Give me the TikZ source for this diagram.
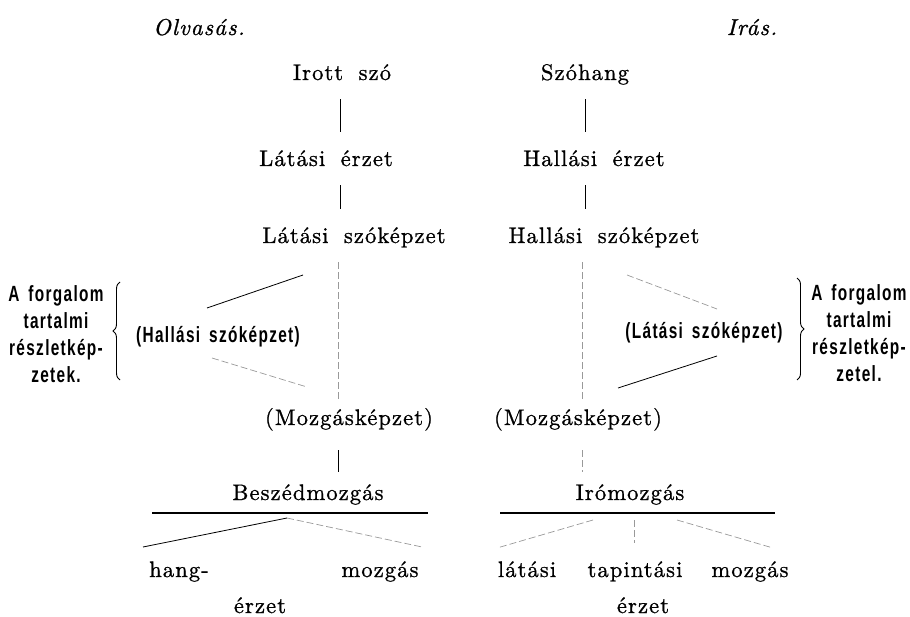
\documentclass[tikz,border=0pt]{standalone}
\usepackage{fontspec}
\usetikzlibrary{decorations.pathreplacing}
\newfontfamily\printfont{lmroman10-regular.otf}[ItalicFont=lmroman10-italic.otf,LetterSpace=5,WordSpace=1.8,FakeBold=1]
\newfontfamily\condfont{Liberation Sans}[FakeStretch=0.7,LetterSpace=6,WordSpace=1.6]
\begin{document}
\begin{tikzpicture}[x=1pt,y=-1pt,
    word/.style={anchor=base,inner sep=0pt,text height=15pt,text depth=5pt,font=\printfont\fontsize{22.5}{26}\selectfont},
    head/.style={word,font=\printfont\itshape\fontsize{23}{26}\selectfont},
    cond/.style={inner sep=0pt,align=center,font=\condfont\bfseries\fontsize{22}{27}\selectfont},
    rule/.style={line width=0.8pt},
    faint/.style={black!40,line width=0.7pt,dash pattern=on 7pt off 3pt},
    link/.style={rule,shorten <=14pt,shorten >=19pt},
    bar/.style={line width=2.2pt},
    curly/.style={decorate,decoration={brace,amplitude=7pt},line width=0.9pt}]
        \useasboundingbox (0,0) rectangle (910,617);
        \node at (199,35) [head] (olv) {Olvasás.};
        \node at (752,35) [head] (iras) {Irás.};
        \node at (342,80) [word] (irott) {Irott szó};
        \node at (585,80) [word] (szohang) {Szóhang};
        \node at (326,166) [word] (laterz) {Látási érzet};
        \node at (594,166) [word] (hallerz) {Hallási érzet};
        \node at (354,243) [word] (latsz) {Látási szóképzet};
        \node at (604,243) [word] (hallsz) {Hallási szóképzet};
        \node at (349,425) [word] (lmoz) {(Mozgásképzet)};
        \node at (578,425) [word] (rmoz) {(Mozgásképzet)};
        \node at (308,500) [word] (beszed) {Beszédmozgás};
        \node at (630,500) [word] (iromoz) {Irómozgás};
        \node at (179,577) [word] (hang) {hang-};
        \node at (260,613) [word] (lerzet) {érzet};
        \node at (380,577) [word] (lmozg) {mozgás};
        \node at (527,577) [word] (latasi) {látási};
        \node at (635,577) [word] (tapint) {tapintási};
        \node at (750,577) [word] (rmozg) {mozgás};
        \node at (643,613) [word] (rerzet) {érzet};
        \node at (218,337) [cond] (lhall) {(Hallási szóképzet)};
        \node at (704,333) [cond] (rlat) {(Látási szóképzet)};
        \node at (56,334) [cond] (lforg) {A forgalom\\tartalmi\\részletkép-\\zetek.};
        \node at (859,333) [cond] (rforg) {A forgalom\\tartalmi\\részletkép-\\zetel.};
        \coordinate (lx) at (340,0);
        \coordinate (rx) at (585,0);
        \coordinate (lx2) at (338,0);
        \coordinate (rx2) at (582,0);
        \draw[link] (irott.south -| lx) -- (laterz.north -| lx);
        \draw[link] (laterz.south -| lx) -- (latsz.north -| lx);
        \draw[link] (szohang.south -| rx) -- (hallerz.north -| rx);
        \draw[link] (hallerz.south -| rx) -- (hallsz.north -| rx);
        \draw[faint,shorten <=14pt,shorten >=10pt] (latsz.south -| lx2) -- (lmoz.north -| lx2);
        \draw[faint,shorten <=14pt,shorten >=10pt] (hallsz.south -| rx2) -- (rmoz.north -| rx2);
        \draw[rule,shorten <=20pt,shorten >=13pt] (lmoz.south -| lx2) -- (beszed.north -| lx2);
        \draw[faint,shorten <=20pt,shorten >=13pt] (rmoz.south -| rx2) -- (iromoz.north -| rx2);
        \coordinate (lw1) at (303,275);
        \coordinate (lw2) at (207,308);
        \coordinate (lw3) at (212,358);
        \coordinate (lw4) at (307,387);
        \coordinate (rw1) at (627,275);
        \coordinate (rw2) at (717,309);
        \coordinate (rw3) at (717,356);
        \coordinate (rw4) at (618,388);
        \draw[rule] (lw1) -- (lw2);
        \draw[faint] (lw3) -- (lw4);
        \draw[faint] (rw1) -- (rw2);
        \draw[rule] (rw3) -- (rw4);
        \draw[curly] (120,380) -- (120,282);
        \draw[curly] (797,278) -- (797,380);
        \draw[bar] (152,513) -- (428,513);
        \draw[bar] (500,513) -- (775,513);
        \coordinate (lroot) at (287,518);
        \coordinate (lend1) at (143,547);
        \coordinate (lend2) at (422,547);
        \draw[rule] (lroot) -- (lend1);
        \draw[faint] (lroot) -- (lend2);
        \coordinate (rroot1) at (593,520);
        \coordinate (rroot2) at (634,520);
        \coordinate (rroot3) at (677,520);
        \coordinate (rend1) at (497,548);
        \coordinate (rend2) at (634,543);
        \coordinate (rend3) at (773,548);
        \draw[faint] (rroot1) -- (rend1);
        \draw[faint] (rroot2) -- (rend2);
        \draw[faint] (rroot3) -- (rend3);
      \end{tikzpicture}
\end{document}
